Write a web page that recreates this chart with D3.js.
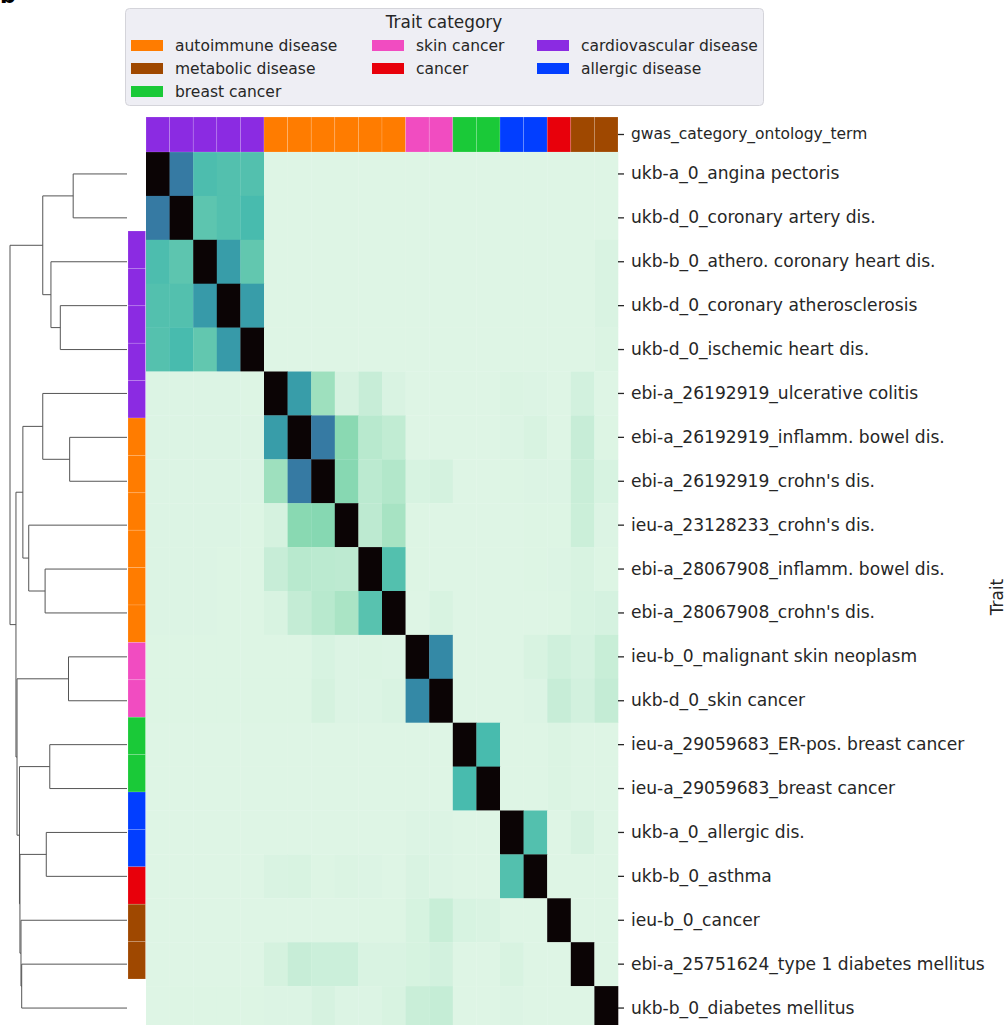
<!DOCTYPE html>
<html>
<head>
<meta charset="utf-8">
<script src="https://cdn.jsdelivr.net/npm/d3@7"></script>
<style>
  html, body { margin: 0; padding: 0; background: #fff; }
  svg { display: block; font-family: "DejaVu Sans", sans-serif; }
</style>
</head>
<body>
<svg id="chart" width="1008" height="1025"></svg>
<script>
// Traits, in clustered order (rows and columns share it)
const traits = [
  "ukb-a_0_angina pectoris",
  "ukb-d_0_coronary artery dis.",
  "ukb-b_0_athero. coronary heart dis.",
  "ukb-d_0_coronary atherosclerosis",
  "ukb-d_0_ischemic heart dis.",
  "ebi-a_26192919_ulcerative colitis",
  "ebi-a_26192919_inflamm. bowel dis.",
  "ebi-a_26192919_crohn's dis.",
  "ieu-a_23128233_crohn's dis.",
  "ebi-a_28067908_inflamm. bowel dis.",
  "ebi-a_28067908_crohn's dis.",
  "ieu-b_0_malignant skin neoplasm",
  "ukb-d_0_skin cancer",
  "ieu-a_29059683_ER-pos. breast cancer",
  "ieu-a_29059683_breast cancer",
  "ukb-a_0_allergic dis.",
  "ukb-b_0_asthma",
  "ieu-b_0_cancer",
  "ebi-a_25751624_type 1 diabetes mellitus",
  "ukb-b_0_diabetes mellitus"
];

// GWAS category of each trait
const traitCategory = [
  "cardiovascular disease", "cardiovascular disease", "cardiovascular disease",
  "cardiovascular disease", "cardiovascular disease",
  "autoimmune disease", "autoimmune disease", "autoimmune disease",
  "autoimmune disease", "autoimmune disease", "autoimmune disease",
  "skin cancer", "skin cancer",
  "breast cancer", "breast cancer",
  "allergic disease", "allergic disease",
  "cancer",
  "metabolic disease", "metabolic disease"
];

// Legend entries (filled column by column, 3 + 2 + 2) and category colours
const legendCategories = [
  "autoimmune disease", "metabolic disease", "breast cancer",
  "skin cancer", "cancer",
  "cardiovascular disease", "allergic disease"
];
const categoryColors = ["#ff7c00", "#9f4800", "#1ac938", "#f14cc1", "#e8000b", "#8b2be2", "#023eff"];

// Pairwise similarity between traits
const similarity = [
  [1, .50, .26, .25, .25, 0, 0, 0, 0, 0, 0, 0, 0, 0, 0, 0, 0, 0, 0, 0],
  [.50, 1, .23, .25, .27, 0, 0, 0, 0, 0, 0, 0, 0, 0, 0, 0, 0, 0, 0, 0],
  [.26, .23, 1, .38, .22, 0, 0, 0, 0, 0, 0, 0, 0, 0, 0, 0, 0, 0, 0, .008],
  [.25, .25, .39, 1, .38, 0, 0, 0, 0, 0, 0, 0, 0, 0, 0, 0, 0, 0, 0, .008],
  [.245, .27, .22, .39, 1, 0, 0, 0, 0, 0, 0, 0, 0, 0, 0, 0, 0, 0, 0, .006],
  [.004, .004, .003, .003, .002, 1, .38, .11, .014, .04, .008, 0, 0, 0, 0, .006, .004, 0, .02, 0],
  [.004, .004, .004, .003, .003, .38, 1, .50, .145, .065, .05, 0, 0, 0, 0, .004, .01, 0, .04, .002],
  [.004, .004, .003, .003, .003, .11, .50, 1, .15, .06, .075, .012, .018, 0, 0, .002, .003, .004, .036, .012],
  [.003, .003, .003, .003, .002, .016, .147, .152, 1, .057, .095, .002, 0, 0, 0, 0, .002, .002, .033, .004],
  [.003, .003, .003, .002, .002, .04, .065, .06, .057, 1, .25, .002, 0, 0, 0, 0, .002, .003, .01, .002],
  [.003, .003, .003, .002, .002, .01, .045, .065, .09, .24, 1, 0, .01, 0, 0, 0, 0, .002, .012, .015],
  [.002, .002, .002, .002, .002, .002, .002, .012, .004, .006, .004, 1, .45, 0, 0, 0, .01, .026, .015, .038],
  [.002, .002, .002, .002, .002, .002, .002, .016, .003, .004, .008, .45, 1, 0, 0, 0, .003, .04, .02, .045],
  [0, 0, 0, 0, 0, 0, 0, 0, 0, 0, 0, 0, 0, 1, .27, 0, 0, .006, 0, 0],
  [0, 0, 0, 0, 0, 0, 0, 0, 0, 0, 0, 0, 0, .27, 1, 0, 0, .006, 0, 0],
  [0, 0, 0, 0, 0, 0, 0, 0, 0, 0, 0, .003, .003, 0, 0, 1, .25, 0, .014, 0],
  [0, 0, 0, 0, 0, .008, .011, .002, .005, .003, 0, .008, .003, 0, 0, .25, 1, 0, 0, 0],
  [0, 0, 0, 0, 0, 0, 0, 0, 0, .002, .002, .013, .038, .012, .008, 0, 0, 1, 0, 0],
  [0, 0, 0, 0, 0, .016, .04, .032, .032, .008, .009, .013, .02, 0, 0, .01, 0, 0, 1, 0],
  [0, .002, .002, .002, .002, .003, .003, .014, .003, .004, .011, .036, .043, 0, 0, .003, 0, 0, 0, 1]
];

// Row linkage: [left child, right child, merge height]; leaves are 0..19, merged nodes 20+
const rowLinkage = [
  [0, 1, 0.46],
  [3, 4, 0.57],
  [2, 21, 0.65],
  [20, 22, 0.72],
  [6, 7, 0.49],
  [5, 24, 0.72],
  [9, 10, 0.70],
  [8, 26, 0.84],
  [25, 27, 0.89],
  [11, 12, 0.50],
  [13, 14, 0.66],
  [15, 16, 0.69],
  [18, 19, 0.90],
  [17, 32, 0.906],
  [31, 33, 0.915],
  [30, 34, 0.919],
  [29, 35, 0.94],
  [28, 36, 0.949],
  [23, 37, 1.0]
];

const textColor = "#262626";
const svg = d3.select("#chart");

// ---- scales ----
const heat = { left: 146, right: 618, top: 152, rowH: 43.9 };
const x = d3.scaleBand().domain(d3.range(traits.length)).range([heat.left, heat.right]);
const y = d3.scaleBand().domain(d3.range(traits.length))
  .range([heat.top, heat.top + heat.rowH * traits.length]);

// mako, reversed: low values light, high values dark
const makoStops = ["#def5e5", "#8bdab2", "#40b7ad", "#348fa7", "#37659e", "#413d7b", "#2e1e3c", "#0b0405"];
const color = d3.scaleLinear()
  .domain(makoStops.map((_, i) => i / (makoStops.length - 1)))
  .range(makoStops)
  .interpolate(d3.interpolateRgb)
  .clamp(true);

const catColor = d3.scaleOrdinal().domain(legendCategories).range(categoryColors);

// ---- heatmap cells ----
const cells = [];
similarity.forEach((row, i) => row.forEach((v, j) => cells.push({ i, j, v })));
svg.append("g").attr("class", "cells")
  .selectAll("rect").data(cells).join("rect")
  .attr("x", d => x(d.j))
  .attr("y", d => y(d.i))
  .attr("width", x.bandwidth() + 0.3)
  .attr("height", y.bandwidth() + 0.3)
  .attr("fill", d => color(d.v));

// ---- column colour strip ----
const colStrip = { top: 117, bottom: 152 };
svg.append("g").attr("class", "col-colors")
  .selectAll("rect").data(traitCategory).join("rect")
  .attr("x", (d, j) => x(j))
  .attr("y", colStrip.top)
  .attr("width", x.bandwidth())
  .attr("height", colStrip.bottom - colStrip.top)
  .attr("fill", d => catColor(d))
  .attr("stroke", "rgba(255,255,255,0.25)")
  .attr("stroke-width", 0.6);

// ---- row colour strip ----
const yRowColors = d3.scaleBand().domain(d3.range(traits.length)).range([231, 979]);
svg.append("g").attr("class", "row-colors")
  .selectAll("rect").data(traitCategory).join("rect")
  .attr("x", 128)
  .attr("y", (d, i) => yRowColors(i))
  .attr("width", 17.5)
  .attr("height", yRowColors.bandwidth())
  .attr("fill", d => catColor(d))
  .attr("stroke", "rgba(255,255,255,0.25)")
  .attr("stroke-width", 0.6);

// ---- row dendrogram ----
const nLeaves = traits.length;
const maxH = d3.max(rowLinkage, d => d[2]);
const xd = d3.scaleLinear().domain([0, maxH]).range([127, 10]);
const nodePos = new Map();   // node id -> {y, h}
d3.range(nLeaves).forEach(i => nodePos.set(i, { y: y(i) + y.bandwidth() / 2, h: 0 }));
const links = [];
rowLinkage.forEach((lk, k) => {
  const a = nodePos.get(lk[0]), b = nodePos.get(lk[1]);
  links.push({ a, b, h: lk[2] });
  nodePos.set(nLeaves + k, { y: (a.y + b.y) / 2, h: lk[2] });
});
svg.append("g").attr("class", "dendrogram")
  .selectAll("path").data(links).join("path")
  .attr("d", d => `M${xd(d.a.h)},${d.a.y}H${xd(d.h)}V${d.b.y}H${xd(d.b.h)}`)
  .attr("fill", "none")
  .attr("stroke", "#555")
  .attr("stroke-width", 1);

// ---- right-hand axis with trait labels ----
const yAxis = d3.axisRight(y).tickSize(6).tickPadding(7).tickFormat(i => traits[i]);
const gy = svg.append("g").attr("transform", `translate(${heat.right},0)`).call(yAxis);
gy.select(".domain").remove();
gy.selectAll(".tick line").attr("stroke", textColor).attr("stroke-width", 1.3);
gy.selectAll(".tick text")
  .attr("fill", textColor)
  .attr("font-size", 17.1)
  .attr("font-family", "DejaVu Sans");

// column strip label
const stripAxis = d3.axisRight(d3.scaleBand().domain(["gwas_category_ontology_term"])
  .range([colStrip.top, colStrip.bottom])).tickSize(6).tickPadding(7);
const gs = svg.append("g").attr("transform", `translate(${heat.right},0)`).call(stripAxis);
gs.select(".domain").remove();
gs.selectAll(".tick line").attr("stroke", textColor).attr("stroke-width", 1.3);
gs.selectAll(".tick text")
  .attr("fill", textColor)
  .attr("font-size", 15.5)
  .attr("font-family", "DejaVu Sans");

// axis title
svg.append("text")
  .attr("transform", "translate(1003,597) rotate(-90)")
  .attr("text-anchor", "middle")
  .attr("font-size", 16.9)
  .attr("fill", textColor)
  .text("Trait");

// ---- legend ----
const legend = svg.append("g").attr("class", "legend");
legend.append("rect")
  .attr("x", 125.5).attr("y", 8.5)
  .attr("width", 638).attr("height", 97)
  .attr("rx", 4)
  .attr("fill", "#eeeef4")
  .attr("stroke", "#d4d4da")
  .attr("stroke-width", 1);
legend.append("text")
  .attr("x", 444).attr("y", 28)
  .attr("text-anchor", "middle")
  .attr("font-size", 16.9)
  .attr("fill", textColor)
  .text("Trait category");
const legendColX = [131, 372, 537];
const legendRowY = [45.5, 68.5, 91.5];
// entries fill the first column with three, the other two with two each
const legendSlot = i => i < 3 ? [0, i] : [1 + Math.floor((i - 3) / 2), (i - 3) % 2];
const items = legend.selectAll("g.item").data(legendCategories).join("g")
  .attr("class", "item")
  .attr("transform", (d, i) => {
    const [c, r] = legendSlot(i);
    return `translate(${legendColX[c]},${legendRowY[r]})`;
  });
items.append("rect")
  .attr("x", 0).attr("y", -5.5)
  .attr("width", 32).attr("height", 11)
  .attr("fill", d => catColor(d));
items.append("text")
  .attr("x", 44).attr("y", 0)
  .attr("dy", "0.35em")
  .attr("font-size", 15.5)
  .attr("fill", textColor)
  .text(d => d);

// panel letter
svg.append("text")
  .attr("x", 0).attr("y", 3)
  .attr("font-size", 22)
  .attr("font-weight", "bold")
  .attr("fill", "#000")
  .text("b");
</script>
</body>
</html>
